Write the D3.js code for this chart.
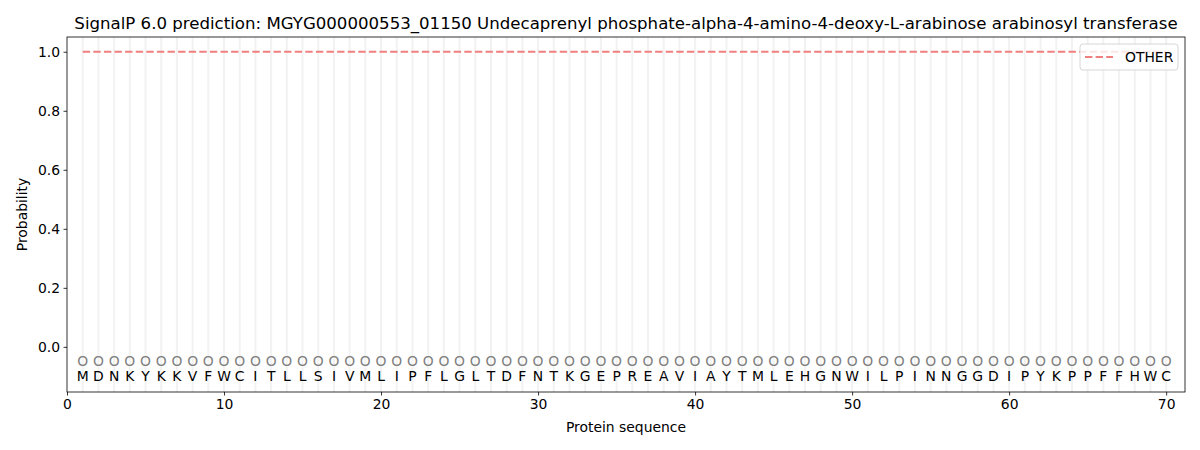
<!DOCTYPE html>
<html>
<head>
<meta charset="utf-8">
<script src="https://cdn.jsdelivr.net/npm/d3@7"></script>
<style>
body{margin:0;background:#fff;}
svg{font-family:"DejaVu Sans",sans-serif;}
</style>
</head>
<body>
<svg id="chart" width="1200" height="450"></svg>
<script>
const titleText = "SignalP 6.0 prediction: MGYG000000553_01150 Undecaprenyl phosphate-alpha-4-amino-4-deoxy-L-arabinose arabinosyl transferase";
const sequence = ["M","D","N","K","Y","K","K","V","F","W","C","I","T","L","L","S","I","V","M","L","I","P","F","L","G","L","T","D","F","N","T","K","G","E","P","R","E","A","V","I","A","Y","T","M","L","E","H","G","N","W","I","L","P","I","N","N","G","G","D","I","P","Y","K","P","P","F","F","H","W","C"];
const positions = sequence.map((d,i)=>i+1);
const otherProb = sequence.map(()=>1.0);
const xTicks = [0,10,20,30,40,50,60,70];
const yTicks = [0.0,0.2,0.4,0.6,0.8,1.0];
const seriesNames = ["OTHER"];

const svg = d3.select("#chart");
const m = {left:67, right:1185, top:37, bottom:392};
const x = d3.scaleLinear().domain([0,71.2]).range([m.left,m.right]);
const y = d3.scaleLinear().domain([-0.153,1.05]).range([m.bottom,m.top]);

// vertical guide lines
svg.append("g").selectAll("line").data(positions).join("line")
  .attr("x1",d=>x(d)).attr("x2",d=>x(d))
  .attr("y1",m.top).attr("y2",m.bottom)
  .attr("stroke","#f2f2f2").attr("stroke-width",2);

// OTHER line
const line = d3.line().x((d,i)=>x(positions[i])).y(d=>y(d));
svg.append("path").datum(otherProb)
  .attr("d",line).attr("fill","none")
  .attr("stroke","#f08080").attr("stroke-width",2)
  .attr("stroke-dasharray","7.4,3.2");

// O markers
svg.append("g").selectAll("text").data(positions).join("text")
  .attr("x",d=>x(d)).attr("y",y(-0.05)).attr("dy","0.35em")
  .attr("text-anchor","middle").attr("font-size","13.9px").attr("fill","#808080")
  .text("O");

// residue letters
svg.append("g").selectAll("text").data(sequence).join("text")
  .attr("x",(d,i)=>x(positions[i])).attr("y",y(-0.1)).attr("dy","0.35em")
  .attr("text-anchor","middle").attr("font-size","13.9px").attr("fill","#000")
  .text(d=>d);

// axes
const xAxis = d3.axisBottom(x).tickValues(xTicks).tickFormat(d3.format("d")).tickSize(3.5).tickPadding(3.5);
const gx = svg.append("g").attr("transform",`translate(0,${m.bottom})`).call(xAxis);
const yAxis = d3.axisLeft(y).tickValues(yTicks).tickFormat(d3.format(".1f")).tickSize(3.5).tickPadding(3.5);
const gy = svg.append("g").attr("transform",`translate(${m.left},0)`).call(yAxis);
[gx,gy].forEach(g=>{
  g.select(".domain").remove();
  g.selectAll(".tick line").attr("stroke","#000").attr("stroke-width",0.8);
  g.selectAll(".tick text").attr("font-size","13.9px").attr("fill","#000").attr("font-family","DejaVu Sans");
});

// frame
svg.append("rect").attr("x",m.left).attr("y",m.top)
  .attr("width",m.right-m.left).attr("height",m.bottom-m.top)
  .attr("fill","none").attr("stroke","#000").attr("stroke-width",0.8);

// title & labels
svg.append("text").attr("x",(m.left+m.right)/2).attr("y",29)
  .attr("text-anchor","middle").attr("font-size","16.6px").text(titleText);
svg.append("text").attr("x",(m.left+m.right)/2).attr("y",432)
  .attr("text-anchor","middle").attr("font-size","13.9px").text("Protein sequence");
svg.append("text").attr("transform",`translate(27,${(m.top+m.bottom)/2}) rotate(-90)`)
  .attr("text-anchor","middle").attr("font-size","13.9px").text("Probability");

// legend
const lg = svg.append("g");
lg.append("rect").attr("x",1080).attr("y",44).attr("width",98).attr("height",26)
  .attr("rx",3).attr("fill","#fff").attr("fill-opacity",0.8)
  .attr("stroke","#d6d6d6").attr("stroke-width",1);
seriesNames.forEach((s,i)=>{
  lg.append("line").attr("x1",1085).attr("x2",1113).attr("y1",57+i*20).attr("y2",57+i*20)
    .attr("stroke","#f08080").attr("stroke-width",2).attr("stroke-dasharray","7.4,3.2");
  lg.append("text").attr("x",1125).attr("y",57+i*20).attr("dy","0.35em")
    .attr("font-size","13.9px").text(s);
});
</script>
</body>
</html>
